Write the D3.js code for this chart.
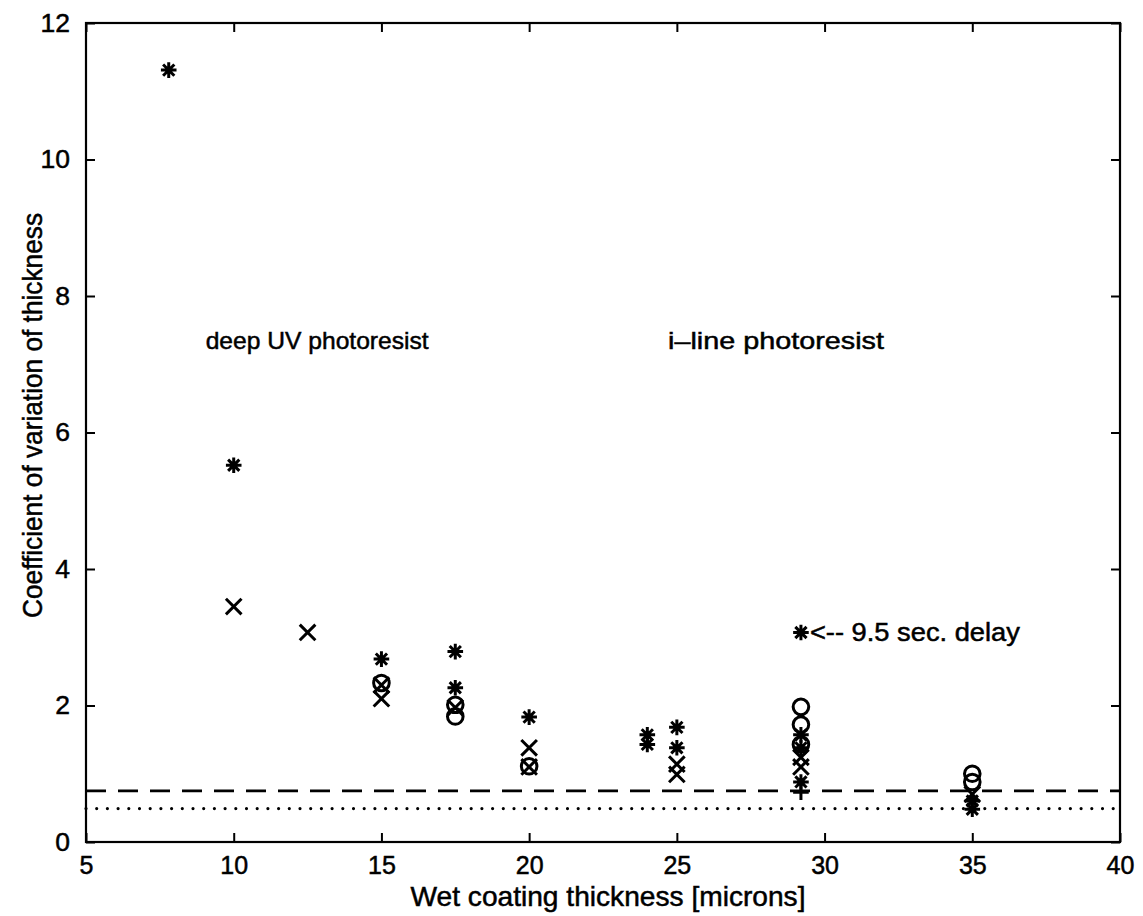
<!DOCTYPE html>
<html>
<head>
<meta charset="utf-8">
<script src="https://cdn.jsdelivr.net/npm/d3@7"></script>
<style>
  body { margin: 0; background: #fff; }
  text { font-family: "Liberation Sans", Arial, sans-serif; fill: #000; stroke: #000; stroke-width: 0.5; }
</style>
</head>
<body>
<div id="chart"></div>
<script>
"use strict";

// == data ==
var stars = [
  [7.8, 11.31], [10, 5.52], [15, 2.68], [17.5, 2.79], [17.5, 2.26],
  [20, 1.83], [24, 1.57], [24, 1.43], [25, 1.68], [25, 1.38],
  [29.2, 1.57], [29.2, 1.38], [29.2, 0.88], [35, 0.6], [35, 0.48]
];
var crosses = [
  [10, 3.45], [12.5, 3.07], [15, 2.3], [15, 2.1], [17.5, 1.97],
  [20, 1.38], [20, 1.1], [25, 1.14], [25, 0.99], [29.2, 1.24],
  [29.2, 1.1], [35, 0.7]
];
var circles = [
  [15, 2.33], [17.5, 2.01], [17.5, 1.84], [20, 1.11],
  [29.2, 1.98], [29.2, 1.72], [29.2, 1.43], [35, 1.0], [35, 0.88]
];
var pluses = [[29.2, 0.73]];
var delayStar = [29.2, 3.07];

var dashedLevel = 0.75;
var dottedLevel = 0.49;

var xTicks = [5, 10, 15, 20, 25, 30, 35, 40];
var yTicks = [0, 2, 4, 6, 8, 10, 12];

var notes = [
  { x: 9.05, y: 7.35, text: "deep UV photoresist", len: 223 },
  { x: 24.7, y: 7.35, text: "i\u2013line photoresist", len: 216 }
];

// == svg boilerplate ==
var W = 1143, H = 916;
var margin = { top: 23, right: 23, bottom: 74, left: 86 },
    width = W - margin.left - margin.right,
    height = H - margin.top - margin.bottom;

var svg = d3.select("#chart").append("svg")
  .attr("width", W).attr("height", H)
  .append("g")
  .attr("transform", "translate(" + margin.left + "," + margin.top + ")");

var x = d3.scaleLinear().domain([5, 40]).range([0, width]);
var y = d3.scaleLinear().domain([0, 12]).range([height, 0]);

// == box and ticks (MATLAB style, inward) ==
svg.append("rect")
  .attr("width", width).attr("height", height)
  .attr("fill", "none").attr("stroke", "#000").attr("stroke-width", 2.2);

var tk = 9;
function styleAxis(g) {
  g.select(".domain").remove();
  g.selectAll(".tick line").attr("stroke", "#000").attr("stroke-width", 2);
  g.selectAll(".tick text").attr("font-size", 25);
}

svg.append("g").attr("transform", "translate(0," + height + ")")
  .call(d3.axisBottom(x).tickValues(xTicks).tickSize(-tk).tickPadding(9).tickFormat(d3.format("d")))
  .call(styleAxis)
  .selectAll(".tick text").attr("dy", "0.9em");
svg.append("g")
  .call(d3.axisTop(x).tickValues(xTicks).tickSize(-tk).tickFormat(""))
  .call(styleAxis);
svg.append("g")
  .call(d3.axisLeft(y).tickValues(yTicks).tickSize(-tk).tickPadding(16).tickFormat(d3.format("d")))
  .call(styleAxis)
  .selectAll(".tick text").attr("font-size", 26.5);
svg.append("g").attr("transform", "translate(" + width + ",0)")
  .call(d3.axisRight(y).tickValues(yTicks).tickSize(-tk).tickFormat(""))
  .call(styleAxis);

// == axis labels ==
svg.append("text")
  .attr("x", width / 2 + 5).attr("y", height + 64)
  .attr("text-anchor", "middle").attr("font-size", 28)
  .attr("textLength", 395).attr("lengthAdjust", "spacingAndGlyphs")
  .text("Wet coating thickness [microns]");
svg.append("text")
  .attr("transform", "translate(-44," + (height / 2 - 17) + ") rotate(-90)")
  .attr("text-anchor", "middle").attr("font-size", 28)
  .attr("textLength", 405).attr("lengthAdjust", "spacingAndGlyphs")
  .text("Coefficient of variation of thickness");

// == reference levels ==
svg.append("line")
  .attr("x1", 0).attr("x2", width)
  .attr("y1", y(dashedLevel)).attr("y2", y(dashedLevel))
  .attr("stroke", "#000").attr("stroke-width", 2.8).attr("stroke-dasharray", "20,12");
svg.append("line")
  .attr("x1", 0).attr("x2", width)
  .attr("y1", y(dottedLevel)).attr("y2", y(dottedLevel))
  .attr("stroke", "#000").attr("stroke-width", 3.2).attr("stroke-linecap", "round")
  .attr("stroke-dasharray", "0,10.7");

// == markers ==
var r = 7.8;
var shapes = {
  star: "M" + (-r) + ",0H" + r + "M0," + (-r) + "V" + r +
        "M" + (-r * 0.72) + "," + (-r * 0.72) + "L" + (r * 0.72) + "," + (r * 0.72) +
        "M" + (-r * 0.72) + "," + (r * 0.72) + "L" + (r * 0.72) + "," + (-r * 0.72),
  cross: "M" + (-r) + "," + (-r) + "L" + r + "," + r + "M" + (-r) + "," + r + "L" + r + "," + (-r),
  plus: "M" + (-r) + ",0H" + r + "M0," + (-r) + "V" + r,
  circle: d3.arc()({ innerRadius: 0, outerRadius: r, startAngle: 0, endAngle: 2 * Math.PI })
};

function drawSeries(data, shape) {
  svg.append("g").selectAll("path")
    .data(data).enter().append("path")
    .attr("transform", function (d) { return "translate(" + x(d[0]) + "," + y(d[1]) + ")"; })
    .attr("d", shapes[shape])
    .attr("fill", "none").attr("stroke", "#000").attr("stroke-width", 3);
}
drawSeries(circles, "circle");
drawSeries(crosses, "cross");
drawSeries(pluses, "plus");
drawSeries(stars, "star");
drawSeries([delayStar], "star");

// == annotations ==
svg.append("text")
  .attr("x", x(delayStar[0]) + 9).attr("y", y(delayStar[1]))
  .attr("dy", "0.35em").attr("font-size", 25)
  .attr("textLength", 210).attr("lengthAdjust", "spacingAndGlyphs")
  .text("<-- 9.5 sec. delay");

svg.selectAll(".note").data(notes).enter().append("text")
  .attr("class", "note")
  .attr("x", function (d) { return x(d.x); })
  .attr("y", function (d) { return y(d.y); })
  .attr("dy", "0.35em").attr("font-size", 24.5)
  .attr("textLength", function (d) { return d.len; })
  .attr("lengthAdjust", "spacingAndGlyphs")
  .text(function (d) { return d.text; });
</script>
</body>
</html>
